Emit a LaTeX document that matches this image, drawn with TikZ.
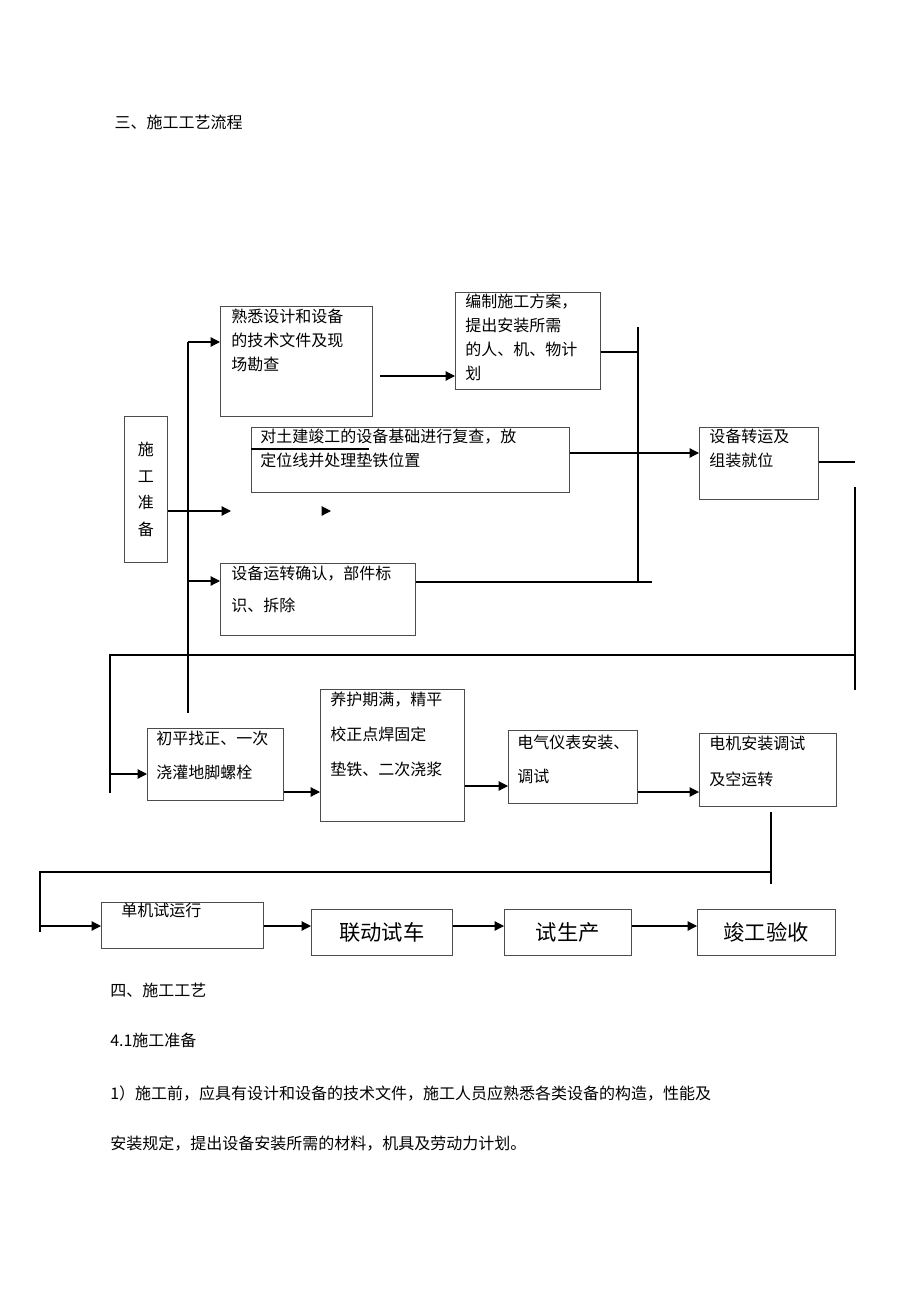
\documentclass[tikz,border=0pt]{standalone}
\usepackage{fontspec}
\setmainfont{Noto Sans CJK SC}
\usetikzlibrary{positioning, arrows.meta}
\newdimen\pxu \pxu=0.75pt
\tikzset{
x=0.75pt, y=-0.75pt, % one unit is one pixel of the page
>={Triangle[length=7pt,width=7pt]}, % solid arrow heads
box/.style={draw=black!70, thin, anchor=north west, inner sep=0pt}, % empty frame of a step
txt/.style={anchor=north west, align=left, inner sep=0pt, font=\fontsize{12}{18}\selectfont}, % text inside a frame
big/.style={font=\fontsize{16}{18}\selectfont}, % last row of steps
line/.style={line width=0.9pt}, % connectors
}

\begin{document}
\begin{tikzpicture}
        \useasboundingbox (0,0) rectangle (920,1302);
        \node[anchor=west, font=\fontsize{12}{14}\selectfont] (title) at (110,122) {三、施工工艺流程};

        % first part: preparation
        \node[box, minimum width=43\pxu, minimum height=146\pxu] (prep) at (124,416) {};
        \node[align=center, font=\fontsize{12}{20}\selectfont] at (prep.center) {施\\工\\准\\备};
        \node[box, minimum width=152\pxu, minimum height=110\pxu] (know) at (220,306) {};
        \node[txt] at (231,309) {熟悉设计和设备\\的技术文件及现\\场勘查};
        \node[box, minimum width=145\pxu, minimum height=97\pxu] (plan) at (455,292) {};
        \node[txt] at (465,294) {编制施工方案，\\提出安装所需\\的人、机、物计\\划};
        \node[box, minimum width=318\pxu, minimum height=65\pxu] (check) at (251,427) {};
        \node[txt] at (260,429) {对土建竣工的设备基础进行复查，放\\定位线并处理垫铁位置};
        \node[box, minimum width=195\pxu, minimum height=72\pxu] (mark) at (220,563) {};
        \node[txt, font=\fontsize{12}{24}\selectfont] at (231,566) {设备运转确认，部件标\\识、拆除};
        \node[box, minimum width=119\pxu, minimum height=72\pxu] (move) at (699,427) {};
        \node[txt] at (709,429) {设备转运及\\组装就位};

        \coordinate (t1) at (188,342);
        \coordinate (t2) at (188,713);
        \coordinate (m1) at (638,327);
        \coordinate (m2) at (652,582);
        \draw[line] (t1) -- (t2);
        \draw[line, ->] (t1) -- (know.west |- t1);
        \draw[line, ->] (188,581) -- (mark.west |- 188,581);
        \draw[line, ->] (prep.east |- 0,511) -- (231,511);
        \draw[line, ->] (322,511) -- (331,511);
        \draw[line, ->] (380,376) -- (plan.west |- 0,376);
        \draw[line] (m1) -- (638,582);
        \draw[line] (plan.east |- 0,352) -- (638,352);
        \draw[line] (mark.east |- 0,582) -- (m2);
        \draw[line, ->] (check.east |- 0,453) -- (move.west |- 0,453);
        \draw[line] (251,449) -- (369,449);
        \draw[line] (move.east |- 0,462) -- (855,462);
        \draw[line] (855,487) -- (855,690);

        % second part: alignment and installation
        \node[box, minimum width=136\pxu, minimum height=72\pxu] (level) at (147,728) {};
        \node[txt, font=\fontsize{12}{25.5}\selectfont] at (156,731) {初平找正、一次\\浇灌地脚螺栓};
        \node[box, minimum width=144\pxu, minimum height=132\pxu] (grout) at (320,689) {};
        \node[txt, font=\fontsize{12}{26}\selectfont] at (330,692) {养护期满，精平\\校正点焊固定\\垫铁、二次浇浆};
        \node[box, minimum width=129\pxu, minimum height=73\pxu] (elec) at (508,730) {};
        \node[txt, font=\fontsize{12}{25.5}\selectfont] at (517,735) {电气仪表安装、\\调试};
        \node[box, minimum width=137\pxu, minimum height=73\pxu] (motor) at (699,733) {};
        \node[txt, font=\fontsize{12}{27}\selectfont] at (709,736) {电机安装调试\\及空运转};

        \coordinate (r1) at (110,655);
        \coordinate (r2) at (855,655);
        \draw[line] (r2) -- (r1) -- (110,793);
        \draw[line, ->] (110,774) -- (level.west |- 0,774);
        \draw[line, ->] (level.east |- 0,792) -- (grout.west |- 0,792);
        \draw[line, ->] (grout.east |- 0,786) -- (elec.west |- 0,786);
        \draw[line, ->] (elec.east |- 0,792) -- (motor.west |- 0,792);

        % third part: trial runs
        \node[box, minimum width=162\pxu, minimum height=46\pxu] (single) at (101,902) {};
        \node[txt] at (121,903) {单机试运行};
        \node[box, big, minimum width=141\pxu, minimum height=46\pxu] (joint) at (311,909) {联动试车};
        \node[box, big, minimum width=127\pxu, minimum height=46\pxu] (trial) at (504,909) {试生产};
        \node[box, big, minimum width=138\pxu, minimum height=46\pxu] (accept) at (697,909) {竣工验收};

        \coordinate (d1) at (771,812);
        \coordinate (d2) at (40,872);
        \draw[line] (d1) -- (771,884);
        \draw[line] (771,872) -- (d2) -- (40,932);
        \draw[line, ->] (40,926) -- (single.west |- 0,926);
        \draw[line, ->] (single.east |- 0,926) -- (joint.west |- 0,926);
        \draw[line, ->] (joint.east |- 0,926) -- (trial.west |- 0,926);
        \draw[line, ->] (trial.east |- 0,926) -- (accept.west |- 0,926);

        % text below the chart
        \begin{scope}[every node/.style={anchor=west, inner sep=0pt, font=\fontsize{12}{14}\selectfont}]
        \node (sec) at (110,990) {四、施工工艺};
        \node (sub) at (110,1040) {4.1施工准备};
        \node (par1) at (110,1093) {1）施工前，应具有设计和设备的技术文件，施工人员应熟悉各类设备的构造，性能及};
        \node (par2) at (110,1144) {安装规定，提出设备安装所需的材料，机具及劳动力计划。};
        \end{scope}
    \end{tikzpicture}
\end{document}
